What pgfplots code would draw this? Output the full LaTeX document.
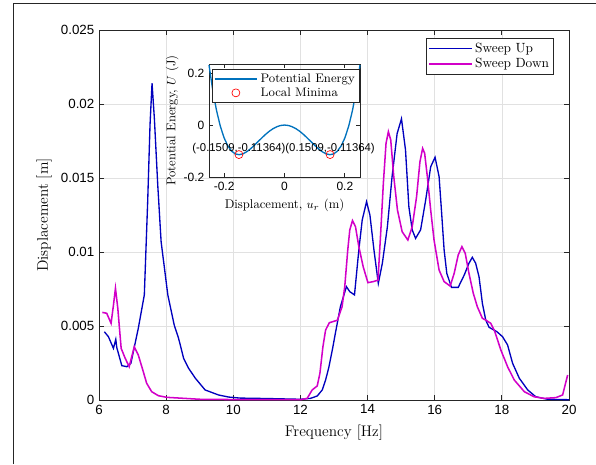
\documentclass[border=0pt]{standalone}
\usepackage{fontspec}
\newfontfamily\ticksans{Liberation Sans}
\usepackage{pgfplots}
\pgfplotsset{compat=1.18}
\definecolor{sweepup}{RGB}{0,0,190}
\definecolor{sweepdown}{RGB}{210,0,200}
\definecolor{energy}{RGB}{0,114,189}
\definecolor{axgray}{RGB}{38,38,38}
\definecolor{gridgray}{RGB}{225,225,225}

\begin{document}
\begin{tikzpicture}
\path[use as bounding box] (0,0) rectangle (447pt,-348pt);
\draw[axgray, line width=0.75pt] (9.75pt,-348pt) -- (9.75pt,-2.25pt) -- (447pt,-2.25pt);

% main frequency response
\begin{axis}[
    at={(74.25pt,-300pt)}, anchor=south west,
    scale only axis, width=352.5pt, height=277.5pt,
    xmin=6, xmax=20, ymin=0, ymax=0.025,
    scaled y ticks=false,
    xtick={6,8,10,12,14,16,18,20},
    xticklabels={6,8,10,12,14,16,18,20},
    ytick={0,0.005,0.01,0.015,0.02,0.025},
    yticklabels={0,0.005,0.01,0.015,0.02,0.025},
    tick label style={font=\fontsize{10}{12}\selectfont\ticksans},
    /pgf/number format/assume math mode=true,
    tick align=inside, major tick length=4pt,
    grid=major, grid style={gridgray, line width=0.5pt},
    axis line style={axgray, line width=0.6pt},
    tick style={axgray, line width=0.6pt},
    xlabel={Frequency [Hz]}, ylabel={Displacement [m]},
    label style={font=\fontsize{11.5}{13}\selectfont},
    xlabel style={yshift=-1.5pt},
    legend style={at={(0.968,0.978)}, anchor=north east, draw=axgray,
        font=\fontsize{10}{12}\selectfont,
        inner sep=1.5pt, row sep=-1pt},
    legend cell align=left,
    legend image code/.code={\draw[#1] (0pt,0pt) -- (32pt,0pt);},
]
\addplot[sweepup, line width=1pt] coordinates {
 (6.16,0.00461)(6.28,0.00428)(6.43,0.00349)(6.50,0.0041)(6.53,0.00354)
 (6.68,0.00232)(6.83,0.00225)(6.95,0.00248)(7.17,0.00484)(7.35,0.0071)
 (7.45,0.0134)(7.52,0.0186)(7.58,0.0214)(7.65,0.019)(7.75,0.01453)
 (7.85,0.0107)(8.05,0.0071)(8.24,0.00507)(8.37,0.00417)(8.52,0.00282)
 (8.67,0.00214)(8.87,0.00147)(9.16,0.00068)(9.56,0.00034)(9.86,0.0002)
 (10.2,0.00013)(11,0.0001)(12,0.00005)(12.3,0.00011)(12.5,0.00027)
 (12.65,0.00068)(12.75,0.00135)(12.85,0.00225)(12.95,0.00338)(13.04,0.0045)
 (13.19,0.0063)(13.37,0.00766)(13.47,0.00732)(13.61,0.0071)(13.74,0.01014)
 (13.84,0.01216)(13.97,0.0134)(14.07,0.0125)(14.19,0.01014)(14.32,0.00788)
 (14.44,0.00924)(14.59,0.0117)(14.73,0.0151)(14.88,0.018)(15.01,0.019)
 (15.13,0.0169)(15.23,0.01306)(15.33,0.01149)(15.43,0.01092)(15.58,0.0115)
 (15.73,0.0135)(15.88,0.01576)(16.01,0.0164)(16.13,0.0151)(16.2,0.01284)
 (16.28,0.01014)(16.36,0.00856)(16.5,0.00761)(16.7,0.00761)(16.88,0.00845)
 (17.02,0.00924)(17.12,0.00964)(17.22,0.00924)(17.32,0.00833)(17.42,0.00653)
 (17.52,0.0054)(17.62,0.00491)(17.85,0.00462)(18.02,0.00428)(18.17,0.00372)
 (18.32,0.00248)(18.52,0.00147)(18.77,0.00068)(19.01,0.00022)(19.36,0.00005)
 (20,0.00002)
};
\addlegendentry{Sweep Up}
\addplot[sweepdown, line width=1.15pt] coordinates {
 (6.1,0.00592)(6.23,0.00586)(6.36,0.00518)(6.43,0.0064)(6.49,0.00755)
 (6.56,0.0062)(6.66,0.00349)(6.78,0.00282)(6.9,0.00225)(7.05,0.0036)
 (7.17,0.00304)(7.29,0.00214)(7.42,0.00113)(7.57,0.00056)(7.77,0.00029)
 (8.02,0.00018)(9,0.00005)(10,0.00003)(12,0.00002)(12.2,0.00011)
 (12.35,0.00068)(12.5,0.00095)(12.58,0.0018)(12.67,0.0036)(12.75,0.00473)
 (12.86,0.00522)(13.1,0.00539)(13.24,0.0063)(13.32,0.00766)(13.41,0.01014)
 (13.47,0.01149)(13.55,0.01212)(13.64,0.01171)(13.74,0.01036)(13.87,0.009)
 (14.01,0.00793)(14.17,0.008)(14.31,0.0081)(14.39,0.01126)(14.47,0.01464)
 (14.55,0.01734)(14.62,0.01813)(14.69,0.01757)(14.78,0.0151)(14.89,0.01284)
 (15.03,0.01137)(15.2,0.01081)(15.33,0.01171)(15.46,0.01374)(15.56,0.0161)
 (15.64,0.017)(15.7,0.01667)(15.78,0.0151)(15.88,0.01284)(15.98,0.01081)
 (16.13,0.00878)(16.28,0.008)(16.46,0.0077)(16.58,0.00856)(16.7,0.0098)
 (16.81,0.01036)(16.91,0.0099)(17.02,0.00856)(17.15,0.0072)(17.27,0.0063)
 (17.42,0.00552)(17.52,0.0054)(17.67,0.00518)(17.79,0.00462)(17.97,0.00338)
 (18.17,0.00225)(18.37,0.00135)(18.67,0.00056)(18.96,0.00022)(19.26,0.00011)
 (19.61,0.00016)(19.81,0.00034)(19.96,0.00169)
};
\addlegendentry{Sweep Down}
\end{axis}

% inset: potential energy
\begin{axis}[
    at={(156.75pt,-132.75pt)}, anchor=south west,
    scale only axis, width=113.25pt, height=84.75pt,
    xmin=-0.25, xmax=0.25, ymin=-0.2, ymax=0.235,
    xtick={-0.2,0,0.2}, xticklabels={-0.2,0,0.2},
    ytick={-0.2,0,0.2}, yticklabels={-0.2,0,0.2},
    tick label style={font=\fontsize{9}{11}\selectfont\ticksans},
    /pgf/number format/assume math mode=true,
    tick align=inside, major tick length=3pt,
    axis line style={axgray, line width=0.6pt},
    tick style={axgray, line width=0.6pt},
    xlabel={Displacement, $u_r$ (m)},
    ylabel={Potential Energy, $U$ (J)},
    label style={font=\fontsize{9.5}{11}\selectfont},
    ylabel style={yshift=-3pt},
    clip=false,
    legend style={at={(0.02,0.955)}, anchor=north west, draw=axgray,
        font=\fontsize{9.3}{11}\selectfont,
        inner sep=1.2pt, row sep=-1.5pt},
    legend cell align=left,
    legend image code/.code={\draw[mark repeat=2, mark phase=2, #1]
        plot coordinates {(0pt,0pt) (16pt,0pt) (32pt,0pt)};},
]
\addplot[energy, line width=1pt] coordinates {
 (-0.25,0.23125)(-0.2375,0.13337)(-0.225,0.05554)(-0.2125,-0.00459)
 (-0.2,-0.04928)(-0.1875,-0.08064)(-0.175,-0.10066)(-0.1625,-0.11122)
 (-0.15,-0.11403)(-0.1375,-0.11071)(-0.125,-0.10273)(-0.1125,-0.09145)
 (-0.1,-0.07808)(-0.0875,-0.063714)(-0.075,-0.049314)(-0.0625,-0.035718)
 (-0.05,-0.02363)(-0.0375,-0.013629)(-0.025,-0.006164)(-0.0125,-0.001557)
 (0,0)
 (0.0125,-0.001557)(0.025,-0.006164)(0.0375,-0.013629)(0.05,-0.02363)
 (0.0625,-0.035718)(0.075,-0.049314)(0.0875,-0.063714)(0.1,-0.07808)
 (0.1125,-0.09145)(0.125,-0.10273)(0.1375,-0.11071)(0.15,-0.11403)
 (0.1625,-0.11122)(0.175,-0.10066)(0.1875,-0.08064)(0.2,-0.04928)
 (0.2125,-0.00459)(0.225,0.05554)(0.2375,0.13337)(0.25,0.23125)
};
\addlegendentry{Potential Energy}
\addplot[only marks, mark=o, mark size=3pt, red, mark options={line width=0.5pt}] coordinates {
 (-0.1509,-0.11364)(0.1509,-0.11364)
};
\addlegendentry{Local Minima}
\node[font=\fontsize{8.5}{10}\selectfont\ticksans, anchor=south, inner sep=0pt, yshift=0.5pt]
  at (axis cs:-0.1509,-0.11364) {(-0.1509,-0.11364)};
\node[font=\fontsize{8.5}{10}\selectfont\ticksans, anchor=south, inner sep=0pt, yshift=0.5pt]
  at (axis cs:0.1509,-0.11364) {(0.1509,-0.11364)};
\end{axis}
\end{tikzpicture}
\end{document}
